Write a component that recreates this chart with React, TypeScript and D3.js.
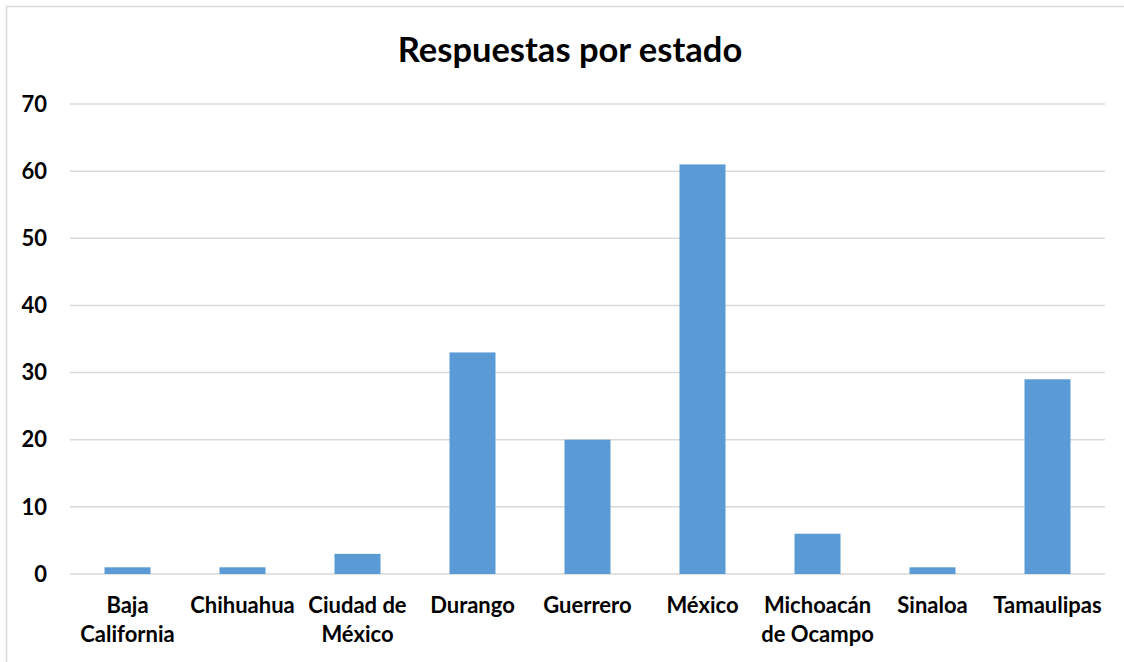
import React from "react";
import * as d3 from "d3";

const categories = [
  "Baja California",
  "Chihuahua",
  "Ciudad de México",
  "Durango",
  "Guerrero",
  "México",
  "Michoacán de Ocampo",
  "Sinaloa",
  "Tamaulipas",
];
const values = [1, 1, 3, 33, 20, 61, 6, 1, 29];
const yTicks = [0, 10, 20, 30, 40, 50, 60, 70];
const labelLines: string[][] = [
  ["Baja", "California"],
  ["Chihuahua"],
  ["Ciudad de", "México"],
  ["Durango"],
  ["Guerrero"],
  ["México"],
  ["Michoacán", "de Ocampo"],
  ["Sinaloa"],
  ["Tamaulipas"],
];

const W = 1124,
  H = 662;
const margin = { top: 104, right: 19, bottom: 88, left: 70 };
const font = "Lato, 'Open Sans', sans-serif";

export default function App() {
  const x = d3
    .scaleBand()
    .domain(categories)
    .range([margin.left, W - margin.right])
    .paddingInner(0.6)
    .paddingOuter(0.3);
  const y = d3
    .scaleLinear()
    .domain([0, 70])
    .range([H - margin.bottom, margin.top]);

  return (
    <svg
      width={W}
      height={H}
      style={{ position: "absolute", left: 0, top: 0, background: "#fff" }}
    >
      <rect x={6.5} y={6.5} width={W} height={H} fill="#fff" stroke="#d9d9d9" strokeWidth={1.5} />
      <text
        x={570}
        y={62}
        textAnchor="middle"
        fontFamily={font}
        fontWeight="bold"
        fontSize={34.5}
        fill="#000"
      >
        Respuestas por estado
      </text>
      {yTicks.map((t) => (
        <g key={t}>
          <line
            x1={margin.left}
            x2={W - margin.right}
            y1={y(t)}
            y2={y(t)}
            stroke="#d9d9d9"
            strokeWidth={1.5}
          />
          <text
            x={47}
            y={y(t)}
            dy="0.35em"
            textAnchor="end"
            fontFamily={font}
            fontWeight="bold"
            fontSize={22}
            fill="#000"
          >
            {t}
          </text>
        </g>
      ))}
      {categories.map((c, i) => (
        <rect
          key={c}
          x={x(c)}
          y={y(values[i])}
          width={x.bandwidth()}
          height={y(0) - y(values[i])}
          fill="#5b9bd5"
        />
      ))}
      {categories.map((c, i) => (
        <text
          key={c}
          x={(x(c) as number) + x.bandwidth() / 2}
          y={613}
          textAnchor="middle"
          fontFamily={font}
          fontWeight="bold"
          fontSize={22}
          fill="#000"
        >
          {labelLines[i].map((l, j) => (
            <tspan key={j} x={(x(c) as number) + x.bandwidth() / 2} dy={j === 0 ? 0 : 29}>
              {l}
            </tspan>
          ))}
        </text>
      ))}
    </svg>
  );
}
